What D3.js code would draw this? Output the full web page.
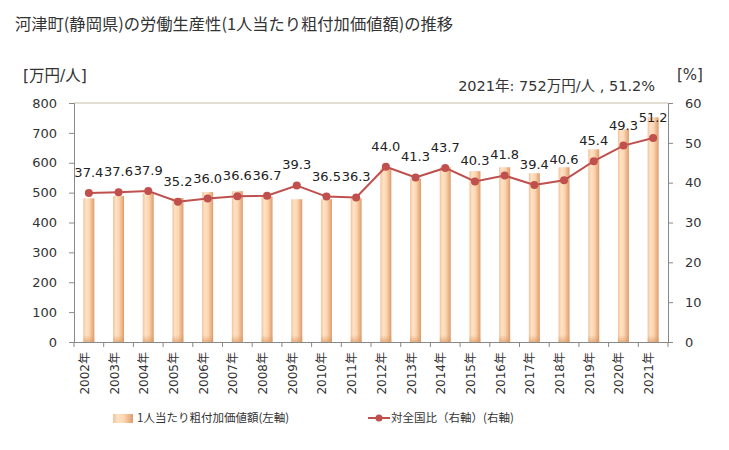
<!DOCTYPE html>
<html><head><meta charset="utf-8">
<script src="https://cdn.jsdelivr.net/npm/d3@7"></script>
<style>
body{margin:0;background:#fff;}
text{font-family:"DejaVu Sans","Noto Sans CJK JP",sans-serif;}
</style></head>
<body><svg id="c" width="729" height="450"></svg>
<script>
const years = ["2002年","2003年","2004年","2005年","2006年","2007年","2008年","2009年","2010年","2011年","2012年","2013年","2014年","2015年","2016年","2017年","2018年","2019年","2020年","2021年"];
const productivity = [481,489,498,482,502,505,487,478,478,481,581,546,585,572,585,565,585,645,712,752];
const ratio = [37.4,37.6,37.9,35.2,36.0,36.6,36.7,39.3,36.5,36.3,44.0,41.3,43.7,40.3,41.8,39.4,40.6,45.4,49.3,51.2];
const leftTicks = [0,100,200,300,400,500,600,700,800];
const rightTicks = [0,10,20,30,40,50,60];

const svg = d3.select("#c");
const L = 74, R = 668, T = 103, B = 342;
const jp = '"Noto Sans CJK JP","DejaVu Sans",sans-serif';
const mix = '"DejaVu Sans","Noto Sans CJK JP",sans-serif';

const x = d3.scaleBand().domain(years).range([L, R]);
const yL = d3.scaleLinear().domain([0, 800]).range([B, T]);
const yR = d3.scaleLinear().domain([0, 60]).range([B, T]);

const defs = svg.append("defs");
const g = defs.append("linearGradient").attr("id","barg").attr("x1","0").attr("x2","1").attr("y1","0").attr("y2","0");
g.append("stop").attr("offset","0%").attr("stop-color","#f2c39a");
g.append("stop").attr("offset","25%").attr("stop-color","#ffe2c6");
g.append("stop").attr("offset","55%").attr("stop-color","#fdd5b0");
g.append("stop").attr("offset","100%").attr("stop-color","#dc9c6c");
const gb = defs.append("linearGradient").attr("id","barb").attr("x1","0").attr("x2","0").attr("y1","0").attr("y2","1");
gb.append("stop").attr("offset","0%").attr("stop-color","#d9955f").attr("stop-opacity",0);
gb.append("stop").attr("offset","100%").attr("stop-color","#d9955f").attr("stop-opacity",0.6);

// title
svg.append("text").attr("x",15).attr("y",30).attr("font-size",16.3).attr("fill","#333")
  .style("font-family",jp).text("河津町(静岡県)の労働生産性(1人当たり粗付加価値額)の推移");

svg.append("text").attr("x",23).attr("y",81).attr("font-size",15.5).attr("fill","#333")
  .style("font-family",mix).text("[万円/人]");
svg.append("text").attr("x",677).attr("y",80).attr("font-size",15).attr("fill","#333")
  .style("font-family",mix).text("[%]");
svg.append("text").attr("x",655).attr("y",91).attr("text-anchor","end").attr("font-size",14.5).attr("fill","#333")
  .style("font-family",mix).text("2021年: 752万円/人 , 51.2%");

// top line
svg.append("line").attr("x1",L).attr("x2",R).attr("y1",yL(800)).attr("y2",yL(800)).attr("stroke","#c8bfa5").attr("stroke-width",1);

// bars
const bw = 11;
const bars = svg.append("g");
bars.selectAll("rect.b").data(productivity).join("rect").attr("class","b")
  .attr("x",(d,i)=>x(years[i]) + x.bandwidth()/2 - bw/2)
  .attr("width",bw)
  .attr("y",d=>yL(d))
  .attr("height",d=>B - yL(d))
  .attr("fill","url(#barg)");
bars.selectAll("rect.s").data(productivity).join("rect").attr("class","s")
  .attr("x",(d,i)=>x(years[i]) + x.bandwidth()/2 - bw/2)
  .attr("width",bw)
  .attr("y",B-7)
  .attr("height",7)
  .attr("fill","url(#barb)");

// axes
const axL = svg.append("g").attr("transform",`translate(${L},0)`)
  .call(d3.axisLeft(yL).tickValues(leftTicks).tickSize(5).tickPadding(12));
const axR = svg.append("g").attr("transform",`translate(${R},0)`)
  .call(d3.axisRight(yR).tickValues(rightTicks).tickSize(5).tickPadding(12));
const axB = svg.append("g").attr("transform",`translate(0,${B})`)
  .call(d3.axisBottom(x).tickSize(0).tickFormat(""));
[axL,axR].forEach(a=>{
  a.select(".domain").attr("stroke","#888");
  a.selectAll(".tick line").attr("stroke","#888");
  a.selectAll("text").attr("font-size",13).attr("fill","#333").style("font-family","DejaVu Sans");
});
axB.select(".domain").attr("stroke","#888");
// category separators ticks
svg.append("g").selectAll("line").data(d3.range(years.length+1)).join("line")
  .attr("x1",i=>L + i*x.step()).attr("x2",i=>L + i*x.step())
  .attr("y1",B).attr("y2",B+5).attr("stroke","#888");
// x labels
svg.append("g").selectAll("text").data(years).join("text")
  .attr("transform",d=>`translate(${x(d)+x.bandwidth()/2},${B+10}) rotate(-90)`)
  .attr("text-anchor","end").attr("font-size",12).attr("fill","#333")
  .style("font-family",mix).text(d=>d);

// line
const lineColor = "#c0504d";
svg.append("path").datum(ratio)
  .attr("d", d3.line().x((d,i)=>x(years[i])+x.bandwidth()/2).y(d=>yR(d)))
  .attr("fill","none").attr("stroke",lineColor).attr("stroke-width",2);
svg.append("g").selectAll("circle").data(ratio).join("circle")
  .attr("cx",(d,i)=>x(years[i])+x.bandwidth()/2).attr("cy",d=>yR(d)).attr("r",4).attr("fill",lineColor);
// labels
svg.append("g").selectAll("text").data(ratio).join("text")
  .attr("x",(d,i)=>x(years[i])+x.bandwidth()/2)
  .attr("y",d=>yR(d)-16)
  .attr("text-anchor","middle").attr("font-size",13).attr("fill","#222")
  .text(d=>d.toFixed(1));

// legend
svg.append("rect").attr("x",113).attr("y",414).attr("width",20).attr("height",9).attr("fill","url(#barg)");
svg.append("text").attr("x",137).attr("y",422).attr("font-size",11.5).attr("fill","#333")
  .style("font-family",jp).text("1人当たり粗付加価値額(左軸)");
svg.append("line").attr("x1",368).attr("x2",390).attr("y1",418).attr("y2",418).attr("stroke",lineColor).attr("stroke-width",2);
svg.append("circle").attr("cx",379).attr("cy",418).attr("r",3.5).attr("fill",lineColor);
svg.append("text").attr("x",391).attr("y",422).attr("font-size",11.5).attr("fill","#333")
  .style("font-family",jp).text("対全国比（右軸）(右軸)");
</script></body></html>
